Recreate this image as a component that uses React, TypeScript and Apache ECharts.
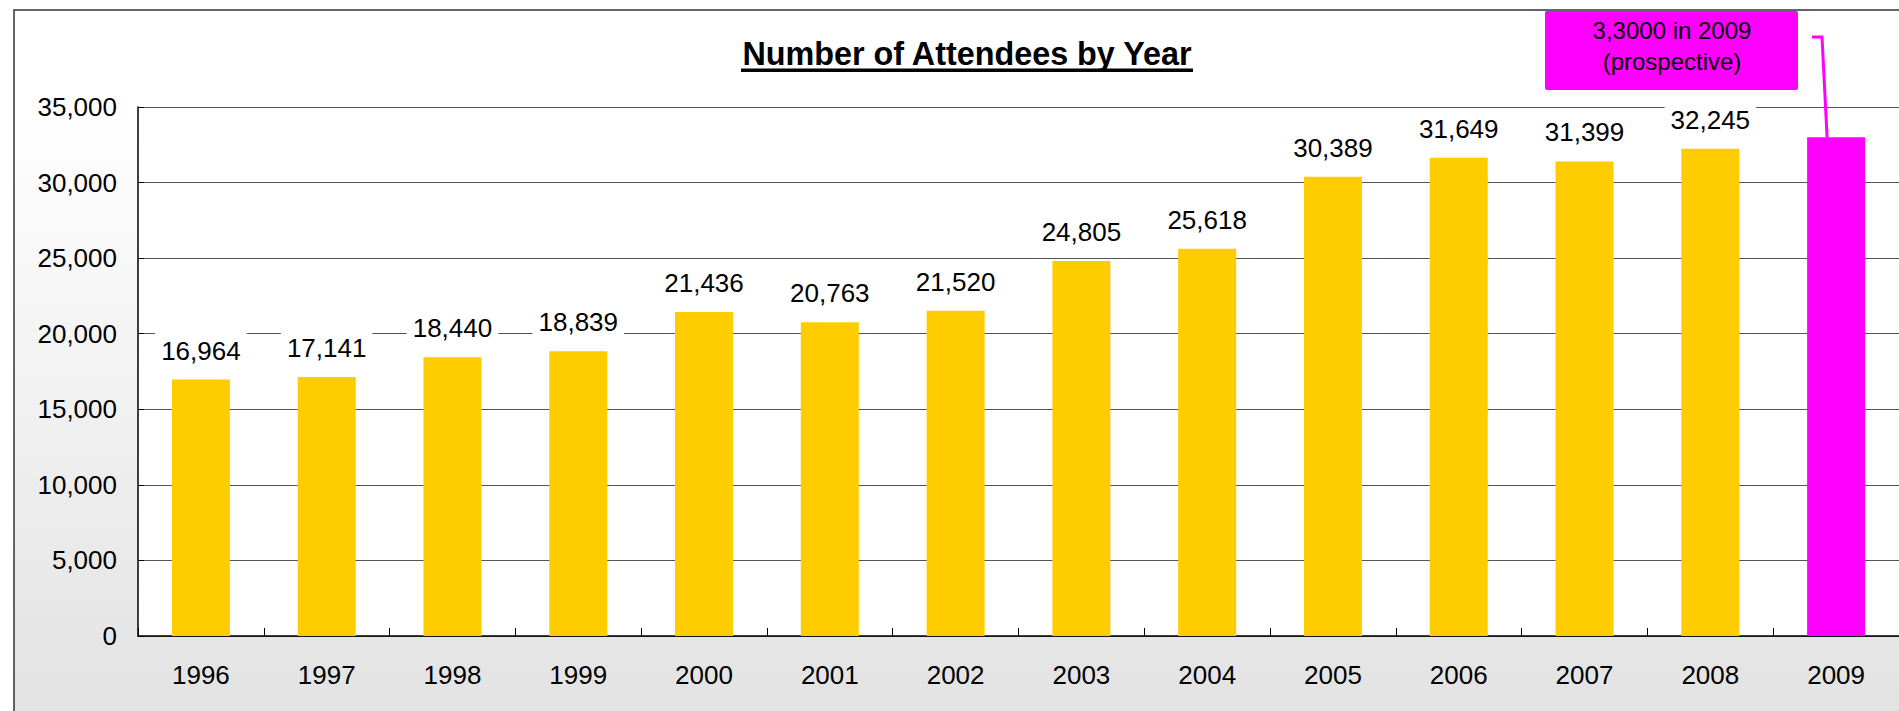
import React, { useEffect, useRef } from "react";
import * as echarts from "echarts";

const years = ["1996", "1997", "1998", "1999", "2000", "2001", "2002", "2003", "2004", "2005", "2006", "2007", "2008", "2009"];
const attendees = [16964, 17141, 18440, 18839, 21436, 20763, 21520, 24805, 25618, 30389, 31649, 31399, 32245, 33000];
const highlightYear = "2009";
const yTicks = { min: 0, max: 35000, interval: 5000 };
const titleText = "Number of Attendees by Year";
const noteLines = ["3,3000 in 2009", "(prospective)"];

const FONT = '"Liberation Sans", Arial, Helvetica, sans-serif';
const fmt = (v: number) => v.toLocaleString("en-US");

export default function App() {
  const ref = useRef<HTMLDivElement>(null);
  useEffect(() => {
    if (!ref.current) return;
    const chart = echarts.init(ref.current, null, { renderer: "svg" });
    const data = attendees.map((v, i) =>
      years[i] === highlightYear
        ? { value: v, itemStyle: { color: "#FF00FF" }, label: { show: false } }
        : { value: v }
    );
    chart.setOption({
      animation: false,
      textStyle: { fontFamily: FONT },
      grid: {
        left: 138,
        right: 0,
        top: 107,
        bottom: 75,
        show: true,
        backgroundColor: "#ffffff",
        borderWidth: 0,
        containLabel: false,
      },
      xAxis: {
        type: "category",
        data: years,
        axisLine: { show: true, lineStyle: { color: "#000", width: 1.5 } },
        axisTick: { show: true, inside: true, length: 8, lineStyle: { color: "#000" } },
        axisLabel: { fontSize: 26, color: "#000", margin: 26, fontFamily: FONT },
        splitLine: { show: false },
      },
      yAxis: {
        type: "value",
        min: yTicks.min,
        max: yTicks.max,
        interval: yTicks.interval,
        axisLine: { show: true, lineStyle: { color: "#000", width: 1.5 } },
        axisTick: { show: true, inside: true, length: 6, lineStyle: { color: "#000" } },
        axisLabel: { fontSize: 26, color: "#000", margin: 21, fontFamily: FONT, formatter: (v: number) => fmt(v) },
        splitLine: { show: true, lineStyle: { color: "#555", width: 1.2 } },
      },
      series: [
        {
          type: "bar",
          data,
          barWidth: 58,
          itemStyle: { color: "#FFCC00" },
          label: {
            show: true,
            position: "top",
            distance: 11,
            fontSize: 26,
            color: "#000",
            fontFamily: FONT,
            backgroundColor: "#ffffff",
            padding: [5, 6],
            formatter: (p: any) => fmt(p.value),
          },
        },
      ],
    });

    const idx = years.indexOf(highlightYear);
    const top = chart.convertToPixel({ gridIndex: 0 }, [idx, attendees[idx]]) as number[];

    chart.setOption({
      graphic: [
        {
          type: "rect",
          z: -10,
          silent: true,
          shape: { x: 14, y: 10, width: 1900, height: 710 },
          style: {
            fill: new echarts.graphic.LinearGradient(0, 0, 0, 1, [
              { offset: 0, color: "#ffffff" },
              { offset: 0.14, color: "#ffffff" },
              { offset: 1, color: "#e2e2e2" },
            ]),
            stroke: "#333",
            lineWidth: 1.5,
          },
        },
        {
          type: "text",
          x: 967,
          y: 53,
          scaleX: 0.98,
          z: 10,
          style: {
            x: 0,
            y: 0,
            text: titleText,
            font: `bold 33px ${FONT}`,
            fill: "#000",
            align: "center",
            verticalAlign: "middle",
          },
        },
        {
          type: "rect",
          z: 10,
          shape: { x: 741, y: 68.5, width: 452, height: 3.5 },
          style: { fill: "#000" },
        },
        {
          type: "rect",
          z: 10,
          shape: { x: 1545, y: 11, width: 253, height: 79, r: 2 },
          style: { fill: "#FF00FF" },
        },
        {
          type: "text",
          z: 11,
          style: {
            x: 1672,
            y: 30,
            text: noteLines[0],
            font: `24px ${FONT}`,
            fill: "#000",
            align: "center",
            verticalAlign: "middle",
          },
        },
        {
          type: "text",
          z: 11,
          style: {
            x: 1672,
            y: 61,
            text: noteLines[1],
            font: `24px ${FONT}`,
            fill: "#000",
            align: "center",
            verticalAlign: "middle",
          },
        },
        {
          type: "polyline",
          z: 11,
          shape: { points: [[1812, 37], [1822, 37], [top[0] - 9, top[1]]] },
          style: { stroke: "#FF00FF", lineWidth: 3, fill: null },
        },
      ],
    });
    return () => chart.dispose();
  }, []);
  return (
    <div
      ref={ref}
      style={{ position: "absolute", left: 0, top: 0, width: 1899, height: 711 }}
    />
  );
}
